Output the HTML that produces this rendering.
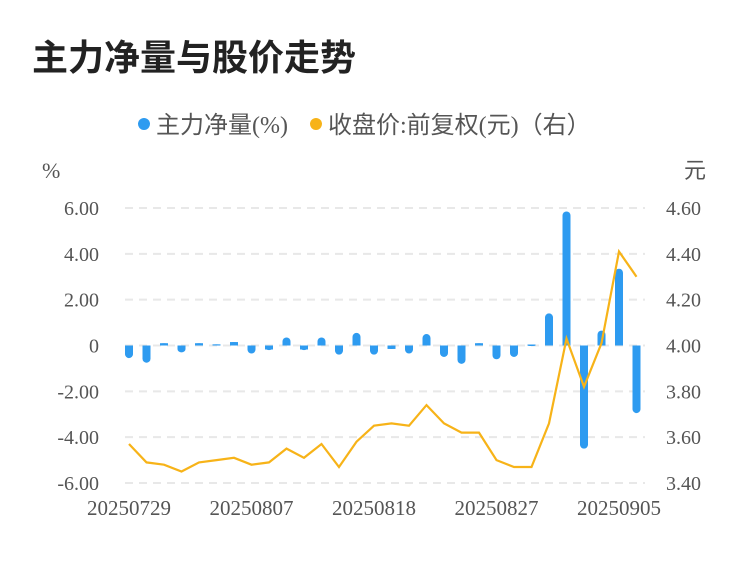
<!DOCTYPE html>
<html><head><meta charset="utf-8">
<style>
html,body{margin:0;padding:0;background:#fff;}
body{width:750px;height:558px;overflow:hidden;font-family:"Liberation Sans","Noto Sans CJK SC",sans-serif;}
</style></head>
<body>
<svg id="chart" width="750" height="558" xmlns="http://www.w3.org/2000/svg">
<text x="32" y="70" font-size="36" font-weight="bold" fill="#222" font-family="Liberation Sans, Noto Sans CJK SC, sans-serif">主力净量与股价走势</text>
<g>
<circle cx="144" cy="124" r="6" fill="#2e9bf0"/>
<text x="156" y="133" font-size="24" fill="#555" font-family="Liberation Serif, Noto Sans CJK SC, sans-serif">主力净量(%)</text>
</g>
<g>
<circle cx="316" cy="124" r="6" fill="#f7b318"/>
<text x="328" y="133" font-size="24" fill="#555" font-family="Liberation Serif, Noto Sans CJK SC, sans-serif">收盘价:前复权(元)（右）</text>
</g>
<text x="42" y="178" font-size="22" fill="#555" font-family="Liberation Serif, sans-serif">%</text>
<text x="684" y="178" font-size="22" fill="#555" font-family="Liberation Serif, Noto Sans CJK SC, sans-serif">元</text>
<g id="grid"></g><g id="bars"></g><g id="line"></g><g id="axes"></g>
</svg>
<script>
const dates = ["20250729","20250730","20250731","20250801","20250804","20250805","20250806","20250807","20250808","20250811","20250812","20250813","20250814","20250815","20250818","20250819","20250820","20250821","20250822","20250825","20250826","20250827","20250828","20250829","20250901","20250902","20250903","20250904","20250905","20250908"];
const netVolume = [-0.55,-0.75,0.1,-0.3,0.1,0.05,0.15,-0.35,-0.2,0.35,-0.2,0.35,-0.4,0.55,-0.4,-0.15,-0.35,0.5,-0.5,-0.8,0.1,-0.6,-0.5,0.02,1.4,5.85,-4.5,0.65,3.35,-2.95];
const closePrice = [3.57,3.49,3.48,3.45,3.49,3.50,3.51,3.48,3.49,3.55,3.51,3.57,3.47,3.58,3.65,3.66,3.65,3.74,3.66,3.62,3.62,3.50,3.47,3.47,3.66,4.03,3.82,4.01,4.41,4.30];
const leftTicks = [6,4,2,0,-2,-4,-6];
const leftTickLabels = ["6.00","4.00","2.00","0","-2.00","-4.00","-6.00"];
const rightTicks = [4.6,4.4,4.2,4.0,3.8,3.6,3.4];
const rightTickLabels = ["4.60","4.40","4.20","4.00","3.80","3.60","3.40"];
const xLabelIdx = [0,7,14,21,28];

const NS="http://www.w3.org/2000/svg";
const plotTop=208,plotBot=483,xStart=129,xEnd=636.5;
const yL=v=>plotTop+(6-v)/12*(plotBot-plotTop);
const yR=v=>plotTop+(4.6-v)/1.2*(plotBot-plotTop);
const xP=i=>xStart+i*(xEnd-xStart)/(dates.length-1);
function mk(tag,attrs,parent){const e=document.createElementNS(NS,tag);for(const k in attrs)e.setAttribute(k,attrs[k]);parent.appendChild(e);return e;}
const gridG=document.getElementById('grid'),barsG=document.getElementById('bars'),lineG=document.getElementById('line'),axesG=document.getElementById('axes');
leftTicks.forEach((t,i)=>{
  const y=yL(t);
  const g=mk('line',{x1:125,x2:645,y1:y,y2:y,stroke:'#e8e8e8','stroke-width':2,'stroke-dasharray':'8,6'},gridG);
  
  
  const tl=mk('text',{x:99,y:y+7,'text-anchor':'end','font-size':20,fill:'#555','font-family':'Liberation Serif, serif'},axesG);
  tl.textContent=leftTickLabels[i];
  
  
});
rightTicks.forEach((t,i)=>{
  const tr=mk('text',{x:666,y:yR(t)+7,'font-size':20,fill:'#555','font-family':'Liberation Serif, serif'},axesG);
  tr.textContent=rightTickLabels[i];
  
  
});
xLabelIdx.forEach(i=>{
  const xl=mk('text',{x:xP(i),y:515,'text-anchor':'middle','font-size':21,fill:'#555','font-family':'Liberation Serif, serif'},axesG);
  xl.textContent=dates[i];
  
  
});
netVolume.forEach((v,i)=>{
  const y0=yL(0),y=yL(v);
  const h=Math.max(Math.abs(y-y0),1);
  const r=mk('rect',{x:xP(i)-4,y:Math.min(y,y0),width:8,height:h,rx:4,fill:'#2e9bf0'},barsG);
  
  
  const s=mk('rect',{x:xP(i)-4,y:v>=0?y0-Math.min(h,4):y0,width:8,height:Math.min(h,4),fill:'#2e9bf0'},barsG);
  
  
});
const pts=closePrice.map((v,i)=>xP(i).toFixed(1)+','+yR(v).toFixed(1)).join(' ');
const pl=mk('polyline',{points:pts,fill:'none',stroke:'#f7b318','stroke-width':2.2,'stroke-linejoin':'miter'},lineG);


</script>
</body></html>
